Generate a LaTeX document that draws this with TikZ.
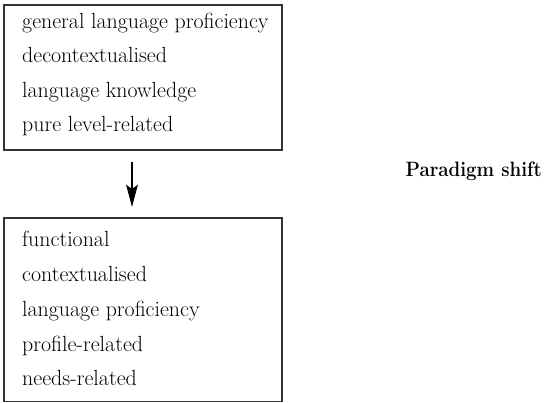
\documentclass[tikz,border=0pt]{standalone}
\usepackage{fontspec}
\usetikzlibrary{arrows.meta}
\begin{document}
\begin{tikzpicture}[x=1pt, y=-1pt,
  framebox/.style={draw=black!80, line width=1.1pt, minimum width=278pt,
    inner sep=0pt, outer sep=0pt, anchor=north west},
  item/.style={anchor=base west, inner sep=0pt,
    font=\fontsize{21.9}{26}\selectfont},
  heading/.style={anchor=base east, inner sep=0pt,
    font=\bfseries\fontsize{20.8}{24}\selectfont},
  shiftarrow/.style={-{Stealth[length=22pt, width=11.5pt, inset=4pt]},
    line width=2.5pt}]
\useasboundingbox (0,0) rectangle (544,403);

% the two frames
\node[framebox, minimum height=145pt] (old) at (4,5) {};
\node[framebox, minimum height=183.5pt] (new) at (4,218) {};

% entries of the upper frame
\node[item] (old1) at (22,28.3)  {general language proficiency};
\node[item] (old2) at (22,63.0)  {decontextualised};
\node[item] (old3) at (22,97.5)  {language knowledge};
\node[item] (old4) at (22,131.9) {pure level-related};

% entries of the lower frame
\node[item] (new1) at (22,246.8) {functional};
\node[item] (new2) at (22,281.6) {contextualised};
\node[item] (new3) at (22,316.4) {language proficiency};
\node[item] (new4) at (22,351.1) {profile-related};
\node[item] (new5) at (22,385.8) {needs-related};

% caption of the shift, slightly condensed
\node[heading] (shift) at (542,176.5) {\scalebox{0.9}[1]{Paradigm shift}};

% arrow between the frames
\draw[shiftarrow] ([xshift=-11pt, yshift=-12pt]old.south) -- ([xshift=-11pt, yshift=11pt]new.north);
\end{tikzpicture}
\end{document}
